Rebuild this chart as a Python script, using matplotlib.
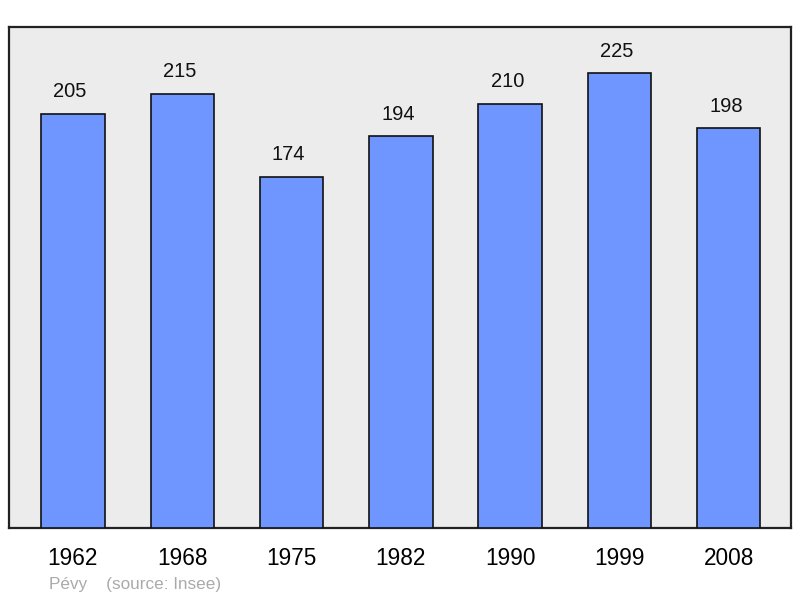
import matplotlib
matplotlib.use("Agg")
import matplotlib.pyplot as plt

years = ["1962", "1968", "1975", "1982", "1990", "1999", "2008"]
population = [205, 215, 174, 194, 210, 225, 198]
commune = "Pévy"
source = "(source: Insee)"

plt.rcParams['font.family'] = ['Liberation Sans', 'DejaVu Sans']

fig = plt.figure(figsize=(8, 5.98), dpi=100)
ax = fig.add_axes([0.01125, 0.117, 0.9775, 0.8378])
ax.set_facecolor('#ececec')

x = range(len(years))
bars = ax.bar(x, population, width=0.58, color='#6f96ff', edgecolor='#111111', linewidth=1.2, zorder=3)

# value labels above bars
for xi, val in zip(x, population):
    ax.annotate(str(val), (xi, val), xytext=(-2, 9), textcoords='offset points',
                ha='center', va='bottom', fontsize=14.5, color='#111111')

ax.set_xlim(-0.585, 6.57)
ax.set_ylim(0, 248)
ax.set_xticks(list(x))
ax.set_xticklabels(years, fontsize=16.3)
ax.tick_params(axis='x', length=0, pad=14)
ax.set_yticks([])
for s in ax.spines.values():
    s.set_linewidth(1.6)
    s.set_color('#222222')

fig.text(49 / 800, 1 - 584 / 598, commune + "    " + source, color='#aaaaaa',
         fontsize=12.3, ha='left', va='center')

plt.savefig('out.png', dpi=100)
